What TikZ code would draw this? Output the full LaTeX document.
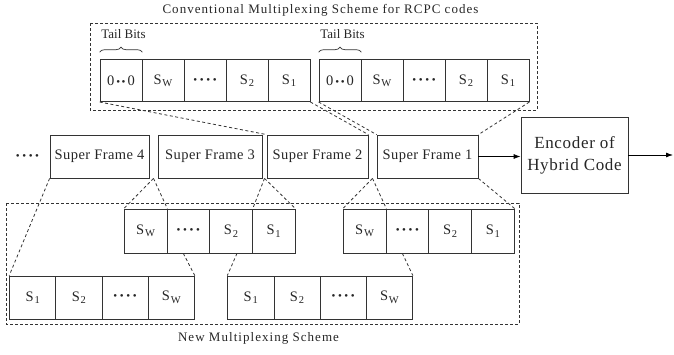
\documentclass[tikz,border=0pt]{standalone}
\usepackage{fontspec}
\setmainfont{Liberation Serif}
\usetikzlibrary{arrows.meta,calc,decorations.pathreplacing}
\newcommand{\fdots}{{\fontsize{11}{11}\selectfont\textbullet\kern2.6pt\textbullet\kern2.6pt\textbullet\kern2.6pt\textbullet}}
\newcommand{\zdz}{0\kern2pt{\fontsize{11}{11}\selectfont\textbullet\kern1.5pt\textbullet}\kern2pt0}
\newcommand{\Sx}[1]{S\kern0.8pt\raisebox{-2.5pt}{\fontsize{10.5}{10.5}\selectfont #1}}
\begin{document}
\begin{tikzpicture}[x=1pt,y=-1pt,
  every node/.style={font=\fontsize{14.5}{16}\selectfont, text=black!85},
  cell/.style={draw=black!80, line width=0.8pt, minimum height=42pt, inner sep=0pt},
  tcell/.style={cell, minimum width=42pt},
  mcell/.style={cell, minimum width=42.7pt, minimum height=44pt},
  bcell/.style={cell, minimum width=46.2pt, minimum height=43pt},
  frame/.style={cell, minimum height=43pt, font=\fontsize{14.5}{16}\selectfont\addfontfeatures{LetterSpace=3}},
  group/.style={draw=black!80, line width=0.8pt, dash pattern=on 3pt off 2pt},
  link/.style={draw=black!80, line width=0.8pt, dash pattern=on 3pt off 2.5pt},
  arr/.style={draw=black, line width=0.8pt, -{Latex[length=7pt,width=5pt]}},
  lbl/.style={font=\fontsize{13}{15}\selectfont\addfontfeatures{LetterSpace=8}}
]
\useasboundingbox (0,0) rectangle (674,354);

% ---- group frames
\draw[group] (90,23) rectangle (537,110);
\draw[group] (6,203) rectangle (519,324);
\node[lbl] (title) at (320.5,10) {Conventional Multiplexing Scheme for RCPC codes};
\node[lbl] (newt) at (258.5,338) {New Multiplexing Scheme};

% ---- top row, group 1
\node[tcell] (t1a) at (121,80.6) {\zdz};
\node[tcell] (t1b) at (163,80.6) {\Sx{W}};
\node[tcell] (t1c) at (205,80.6) {\fdots};
\node[tcell] (t1d) at (247,80.6) {\Sx{2}};
\node[tcell] (t1e) at (289,80.6) {\Sx{1}};
% ---- top row, group 2
\node[tcell] (t2a) at (340,80.6) {\zdz};
\node[tcell] (t2b) at (382,80.6) {\Sx{W}};
\node[tcell] (t2c) at (424,80.6) {\fdots};
\node[tcell] (t2d) at (466,80.6) {\Sx{2}};
\node[tcell] (t2e) at (508,80.6) {\Sx{1}};

% tail bits
\node[font=\fontsize{13}{14}\selectfont] (tb1) at (123.5,34) {Tail Bits};
\node[font=\fontsize{13}{14}\selectfont] (tb2) at (342.5,34) {Tail Bits};
\draw[black!80, line width=0.7pt, decorate, decoration={brace, amplitude=5pt}]
  ($(t1a.north west)+(0,-7)$) -- ($(t1a.north east)+(0,-7)$);
\draw[black!80, line width=0.7pt, decorate, decoration={brace, amplitude=5pt}]
  ($(t2a.north west)+(0,-7)$) -- ($(t2a.north east)+(0,-7)$);

% ---- super frames
\node (ldots) at (27.5,157) {\fdots};
\node[frame, minimum width=99pt] (sf4) at (99.5,156.5) {Super Frame 4};
\node[frame, minimum width=104pt] (sf3) at (210,156.5) {Super Frame 3};
\node[frame, minimum width=101pt] (sf2) at (317.5,156.5) {Super Frame 2};
\node[frame, minimum width=101pt] (sf1) at (427.5,156.5) {Super Frame 1};
\node[draw=black!80, line width=0.8pt, minimum width=107pt, minimum height=76pt,
      align=center, font=\fontsize{17}{22}\selectfont\addfontfeatures{LetterSpace=4}] (enc) at (574.5,155) {Encoder of\\Hybrid Code};
\coordinate (out) at (673,155);
\draw[arr] (sf1.east) -- (sf1.east -| enc.west);
\draw[arr] (enc.east) -- (out);

% ---- middle row (new scheme)
\node[mcell] (ma1) at (145.6,231) {\Sx{W}};
\node[mcell] (ma2) at (188.3,231) {\fdots};
\node[mcell] (ma3) at (231,231) {\Sx{2}};
\node[mcell] (ma4) at (273.6,231) {\Sx{1}};
\node[mcell] (mb1) at (364.6,231) {\Sx{W}};
\node[mcell] (mb2) at (407.4,231) {\fdots};
\node[mcell] (mb3) at (450.1,231) {\Sx{2}};
\node[mcell] (mb4) at (492.9,231) {\Sx{1}};

% ---- bottom row
\node[bcell] (bc1) at (32.7,297.5) {\Sx{1}};
\node[bcell] (bc2) at (78.9,297.5) {\Sx{2}};
\node[bcell] (bc3) at (125.1,297.5) {\fdots};
\node[bcell] (bc4) at (171.3,297.5) {\Sx{W}};
\node[bcell] (bd1) at (250.8,297.5) {\Sx{1}};
\node[bcell] (bd2) at (297,297.5) {\Sx{2}};
\node[bcell] (bd3) at (343.2,297.5) {\fdots};
\node[bcell] (bd4) at (389.4,297.5) {\Sx{W}};

% ---- connectors top
\draw[link] (t1a.south west) -- (sf2.north west);
\draw[link] (t1e.south east) -- (sf2.north east);
\draw[link] (t2a.south west) -- (sf1.north west);
\draw[link] (t2e.south east) -- (sf1.north east);

% ---- connectors bottom
\coordinate (g43) at ($(sf4.south east)!0.5!(sf3.south west)$);
\coordinate (g32) at ($(sf3.south east)!0.5!(sf2.south west)$);
\coordinate (g21) at ($(sf2.south east)!0.5!(sf1.south west)$);
\draw[link] (sf4.south west) -- (bc1.north west);
\draw[link] (g43) -- (ma1.north west);
\draw[link] (g43) -- (ma1.north east);
\draw[link] (g32) -- (ma3.north east);
\draw[link] (g32) -- (ma4.north east);
\draw[link] (g21) -- (mb1.north west);
\draw[link] (g21) -- (mb1.north east);
\draw[link] (sf1.south east) -- (mb4.north east);
\draw[link] ($(ma2.south)+(-5,0)$) -- (bc4.north east);
\draw[link] ($(ma3.south)+(6,0)$) -- (bd1.north west);
\draw[link] ($(mb2.south)+(-5,0)$) -- (bd4.north east);
\end{tikzpicture}
\end{document}
